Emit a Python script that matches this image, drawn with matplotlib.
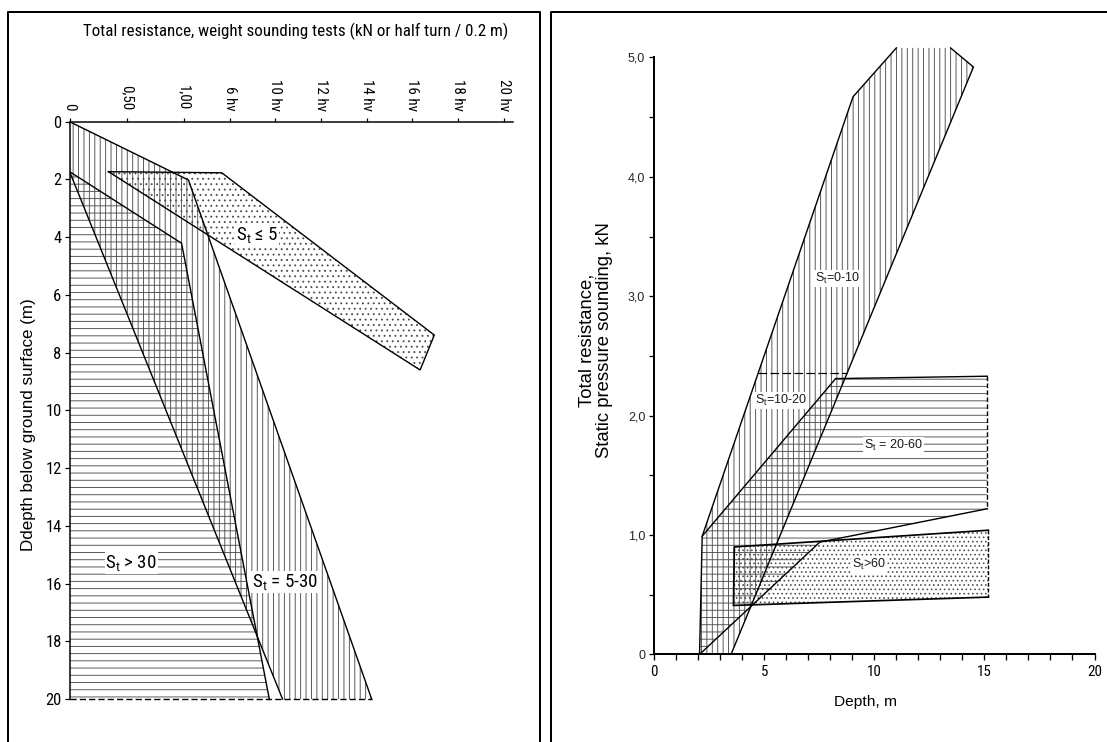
import matplotlib
matplotlib.use("Agg")
import numpy as np
import matplotlib.pyplot as plt
from matplotlib import font_manager
from matplotlib.lines import Line2D
from matplotlib.ticker import FixedLocator, MultipleLocator

# Canvas: 1107 x 742 px. A higher dpi keeps the hatch spacing close to a
# printed diagram; sizes below are given in pixels and converted to points.
DPI = 130
W, H = 1107, 742
PT = 72.0 / DPI


def px(v):
    return v * PT


installed = {f.name for f in font_manager.fontManager.ttflist}
SANS = next(n for n in ["Liberation Sans", "Arial", "DejaVu Sans"] if n in installed)
_narrow = next((n for n in ["Liberation Sans Narrow", "Arial Narrow", "Roboto Condensed"]
                if n in installed), None)
NARROW_SCALE = 1.0 if _narrow else 0.82
NARROW = _narrow or SANS

plt.rcParams.update({
    "font.family": [SANS, "DejaVu Sans"],
    "mathtext.default": "regular",
    "hatch.linewidth": px(0.9),
})

HATCH_GREY = "0.3"
INK = "black"

# ---------------- weight sounding tests (left) ----------------
ws_tick_pos = [0, 1.25, 2.5, 3.5, 4.5, 5.5, 6.5, 7.5, 8.5, 9.5]
ws_tick_labels = ["0", "0,50", "1,00", "6 hv", "10 hv", "12 hv",
                  "14 hv", "16 hv", "18 hv", "20 hv"]
depth_ticks = list(range(0, 21, 2))

# sensitivity zones: resistance (scale units) vs depth (m)
st5_30_res = [0.0, 2.60, 6.61, 4.66, 0.0]
st5_30_depth = [0.0, 2.02, 20.0, 20.0, 1.73]
st30_res = [0.0, 2.45, 4.37, 0.0]
st30_depth = [1.73, 4.21, 20.0, 20.0]
st5_res = [0.85, 3.33, 7.98, 7.67]
st5_depth = [1.73, 1.77, 7.39, 8.60]

left_labels = ["S$_t$ ≤ 5", "S$_t$ > 30", "S$_t$ = 5-30"]
left_label_res = [4.10, 1.35, 4.71]
left_label_depth = [3.92, 15.30, 15.95]

# ---------------- static pressure sounding (right) ----------------
sp_depth_ticks = [0, 5, 10, 15, 20]
sp_res_ticks = [0, 1, 2, 3, 4, 5]
sp_res_labels = ["0", "1,0", "2,0", "3,0", "4,0", "5,0"]

st0_10_depth = [2.06, 2.18, 9.03, 11.00, 13.46, 14.50, 3.49]
st0_10_res = [0.00, 0.99, 4.67, 5.08, 5.08, 4.92, 0.00]
st10_20_limit = 2.354
st20_60_depth = [2.06, 2.18, 8.24, 15.13, 15.13, 7.52]
st20_60_res = [0.00, 0.99, 2.31, 2.33, 1.22, 0.94]
st60_depth = [3.60, 3.64, 15.18, 15.18]
st60_res = [0.41, 0.90, 1.04, 0.48]

right_labels = ["S$_t$=0-10", "S$_t$=10-20", "S$_t$ = 20-60", "S$_t$>60"]
right_label_depth = [8.32, 5.78, 10.85, 9.74]
right_label_res = [3.15, 2.13, 1.75, 0.75]

fig = plt.figure(figsize=(W / DPI, H / DPI), dpi=DPI, facecolor="white")


def fig_line(xs, ys, lw=2.0):
    fig.add_artist(Line2D([x / W for x in xs], [1 - y / H for y in ys],
                          transform=fig.transFigure, color=INK, lw=px(lw),
                          solid_capstyle="projecting"))


# panel frames
fig_line([7.5, 7.5, 539.5, 539.5], [H + 5, 12, 12, H + 5])
fig_line([551, 551, W + 5], [H + 5, 12, 12])


def hatched(ax, x, y, hatch):
    ax.fill(x, y, facecolor="none", edgecolor=HATCH_GREY, hatch=hatch,
            linewidth=0, zorder=1)


def outline(ax, x, y, lw=1.4, dashes=None):
    line, = ax.plot(x, y, color=INK, lw=px(lw), zorder=3,
                    solid_joinstyle="miter")
    if dashes is not None:
        line.set_dashes(dashes)


# ======================= left panel =======================
ax1 = fig.add_axes([69.6 / W, (H - 704.9) / H, 443.3 / W, (704.9 - 121.7) / H])
ax1.set_xlim(0, 9.7)
ax1.set_ylim(20.2, 0)
ax1.set_facecolor("none")

hatched(ax1, st30_res, st30_depth, "---")
hatched(ax1, st5_30_res, st5_30_depth, "||||")
hatched(ax1, st5_res, st5_depth, "....")

outline(ax1, st5_30_res[:3], st5_30_depth[:3])
outline(ax1, st5_30_res[3:], st5_30_depth[3:])
outline(ax1, st30_res[:3], st30_depth[:3])
outline(ax1, st5_res + st5_res[:1], st5_depth + st5_depth[:1])
outline(ax1, [0, max(st5_30_res)], [20, 20], dashes=(px(8), px(4)))

for s in ("right", "bottom"):
    ax1.spines[s].set_visible(False)
for s in ("top", "left"):
    ax1.spines[s].set_linewidth(px(1.5))
ax1.spines["left"].set_bounds(0, 20)

ax1.xaxis.tick_top()
ax1.xaxis.set_major_locator(FixedLocator(ws_tick_pos))
ax1.set_xticklabels(ws_tick_labels, rotation=270, family=[NARROW, "DejaVu Sans"],
                    fontsize=px(15 * NARROW_SCALE))
ax1.tick_params(axis="x", direction="out", length=px(4), width=px(1.2), pad=px(7))
ax1.yaxis.set_major_locator(FixedLocator(depth_ticks))
ax1.set_yticklabels([str(d) for d in depth_ticks], family=[NARROW, "DejaVu Sans"],
                    fontsize=px(16.5 * NARROW_SCALE))
ax1.tick_params(axis="y", direction="out", length=px(5), width=px(1.2), pad=px(3))

for txt, xr, yd in zip(left_labels, left_label_res, left_label_depth):
    ax1.text(xr, yd, txt, ha="center", va="center", zorder=4,
             family=[NARROW, "DejaVu Sans"], fontsize=px(19 * NARROW_SCALE),
             bbox=dict(facecolor="white", edgecolor="none", pad=px(1)))

fig.text(295.5 / W, 1 - 31.7 / H,
         "Total resistance, weight sounding tests (kN or half turn / 0.2 m)",
         ha="center", va="center", family=[NARROW, "DejaVu Sans"],
         fontsize=px(17 * NARROW_SCALE))
fig.text(29 / W, 1 - 424.5 / H, "Ddepth below ground surface (m)",
         rotation=90, ha="center", va="center", fontsize=px(17))

# ======================= right panel =======================
ax2 = fig.add_axes([654.2 / W, (H - 654.4) / H, 440.3 / W, (654.4 - 45.5) / H])
ax2.set_xlim(0, 20)
ax2.set_ylim(0, 5.1)
ax2.set_facecolor("none")

hatched(ax2, st20_60_depth, st20_60_res, "---")
hatched(ax2, st0_10_depth, st0_10_res, "||||")
hatched(ax2, st60_depth, st60_res, ".....")

# St 0-10 / 10-20 band (open at the top where it leaves the frame)
outline(ax2, st0_10_depth[:4], st0_10_res[:4])
outline(ax2, st0_10_depth[4:], st0_10_res[4:])
split_left = np.interp(st10_20_limit, st0_10_res[1:3], st0_10_depth[1:3])
split_right = np.interp(st10_20_limit, [st0_10_res[6], st0_10_res[5]],
                        [st0_10_depth[6], st0_10_depth[5]])
outline(ax2, [split_left, split_right], [st10_20_limit, st10_20_limit],
        lw=1.2, dashes=(px(13), px(5)))

# St 20-60 zone
outline(ax2, st20_60_depth[1:4], st20_60_res[1:4])
outline(ax2, st20_60_depth[4:] + st20_60_depth[:1], st20_60_res[4:] + st20_60_res[:1])
outline(ax2, st20_60_depth[3:5], st20_60_res[3:5], lw=1.4, dashes=(px(6), px(3)))

# St > 60 zone
outline(ax2, [st60_depth[3]] + st60_depth[:3], [st60_res[3]] + st60_res[:3], lw=1.7)
outline(ax2, st60_depth[2:4], st60_res[2:4], lw=1.4, dashes=(px(5), px(2.5)))

for s in ("right", "top"):
    ax2.spines[s].set_visible(False)
for s in ("left", "bottom"):
    ax2.spines[s].set_linewidth(px(2))
ax2.spines["left"].set_bounds(0, 5)

ax2.xaxis.set_major_locator(FixedLocator(sp_depth_ticks))
ax2.xaxis.set_minor_locator(MultipleLocator(1))
ax2.set_xticklabels([str(t) for t in sp_depth_ticks], family=[NARROW, "DejaVu Sans"],
                    fontsize=px(15 * NARROW_SCALE))
ax2.tick_params(axis="x", which="both", direction="out", length=px(6),
                width=px(1.3), pad=px(5))
ax2.yaxis.set_major_locator(FixedLocator(sp_res_ticks))
ax2.yaxis.set_minor_locator(MultipleLocator(0.5))
ax2.set_yticklabels(sp_res_labels, fontsize=px(12.5), color="0.15")
ax2.tick_params(axis="y", which="both", direction="out", length=px(5),
                width=px(1.3), pad=px(4))

for txt, xd, yr in zip(right_labels, right_label_depth, right_label_res):
    ax2.text(xd, yr, txt, ha="center", va="center", zorder=4,
             fontsize=px(12.5), color="0.1",
             bbox=dict(facecolor="white", edgecolor="none", pad=px(1)))

# two-line axis title of the right panel
fig.text(596 / W, 1 - 340 / H, "Total resistance,\nStatic pressure sounding, kN",
         rotation=90, ha="center", va="center", multialignment="center",
         linespacing=1.0, fontsize=px(18.5))
fig.text(866 / W, 1 - 702 / H, "Depth, m", ha="center", va="center",
         fontsize=px(15.5))

fig.savefig("out.png", dpi=DPI, facecolor="white")
